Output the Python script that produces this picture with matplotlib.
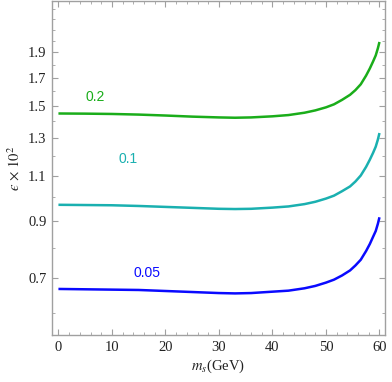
import numpy as np
import matplotlib
matplotlib.use("Agg")
import matplotlib.pyplot as plt
from matplotlib.ticker import FixedLocator, NullFormatter, FixedFormatter

plt.rcParams['mathtext.fontset'] = 'stix'
plt.rcParams['font.family'] = 'Liberation Serif'

# m_s values (GeV) where the curves were read
ms = [0, 5, 10, 15, 20, 25, 30, 33, 36, 40, 43, 46, 48, 50, 51.5, 53,
      54.5, 55.5, 56.5, 57.5, 58.2, 58.8, 59.3, 59.7, 60]

# epsilon x 10^2 for the three couplings
eps_02 = [1.450, 1.449, 1.447, 1.443, 1.437, 1.430, 1.425, 1.423, 1.425, 1.432,
          1.440, 1.455, 1.470, 1.490, 1.510, 1.540, 1.575, 1.608, 1.650, 1.715,
          1.770, 1.825, 1.875, 1.935, 1.990]
eps_01 = [0.968, 0.967, 0.966, 0.963, 0.959, 0.955, 0.951, 0.950, 0.951, 0.956,
          0.961, 0.971, 0.981, 0.995, 1.008, 1.028, 1.050, 1.073, 1.102, 1.145,
          1.182, 1.218, 1.252, 1.292, 1.330]
eps_005 = [0.667, 0.666, 0.665, 0.664, 0.661, 0.658, 0.655, 0.654, 0.655, 0.659,
           0.662, 0.669, 0.676, 0.686, 0.695, 0.708, 0.724, 0.740, 0.759, 0.789,
           0.814, 0.840, 0.862, 0.890, 0.916]

curve_labels = ["0.2", "0.1", "0.05"]
label_x = [6.85, 13.0, 16.5]
label_y = [1.56, 1.185, 0.716]
colors = ['#1aad1a', '#1ab0b0', '#0a0aff']

yticks = [0.7, 0.9, 1.1, 1.3, 1.5, 1.7, 1.9]
yminor = [0.6, 0.8, 1.0, 1.2, 1.4, 1.6, 1.8, 2.0, 2.1, 2.2, 2.3]
xticks = [0, 10, 20, 30, 40, 50, 60]

fig = plt.figure(figsize=(3.92, 3.82), dpi=100)
ax = fig.add_axes([0.1327, 0.123, 0.849, 0.8755])

for ys, c in zip([eps_02, eps_01, eps_005], colors):
    ax.plot(ms, ys, color=c, lw=1.8, solid_capstyle='butt')

for t, x, y, c in zip(curve_labels, label_x, label_y, colors):
    ax.text(x, y, t, color=c, fontsize=10, family='Liberation Sans',
            ha='center', va='center')

ax.set_yscale('log')
ax.set_xlim(-1.2, 61)
ax.set_ylim(0.544, 2.39)

ax.yaxis.set_major_locator(FixedLocator(yticks))
ax.yaxis.set_major_formatter(FixedFormatter([str(v) for v in yticks]))
ax.yaxis.set_minor_locator(FixedLocator(yminor))
ax.yaxis.set_minor_formatter(NullFormatter())
ax.set_xticks(xticks)
ax.xaxis.set_minor_locator(FixedLocator([v for v in range(0, 62, 2) if v % 10]))

for s in ax.spines.values():
    s.set_color('#a0a0a0')
    s.set_linewidth(1.0)
ax.tick_params(which='both', direction='in', top=True, right=True,
               color='#a0a0a0', labelsize=10.5, labelcolor='#222222')
ax.tick_params(which='major', length=4, width=0.8, pad=4)
ax.tick_params(which='minor', length=2.2, width=0.6)

ax.set_xlabel(r'$m_s$(GeV)', fontsize=10.5, color='#222222', labelpad=3)
ax.set_ylabel('$\u03f5\\,\\times\\,10^2$', fontsize=10.5,
              color='#222222', labelpad=4)

fig.savefig('out.png', dpi=100)
